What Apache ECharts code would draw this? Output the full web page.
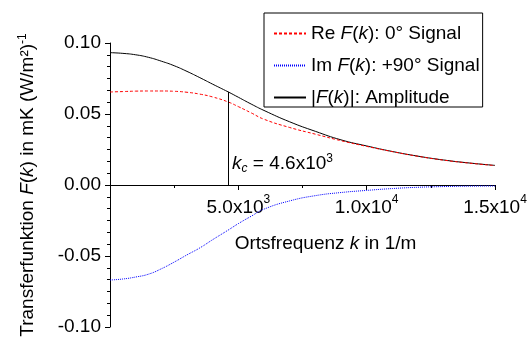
<!DOCTYPE html>
<html>
<head>
<meta charset="utf-8">
<script src="https://cdn.jsdelivr.net/npm/echarts@6/dist/echarts.min.js"></script>
<style>
  html, body { margin: 0; padding: 0; background: #fff; }
  #chart { width: 527px; height: 338px; }
</style>
</head>
<body>
<div id="chart"></div>
<script>
// Spatial frequency k in 1/m
const kValues = [0, 500, 1000, 1500, 2000, 2500, 3000, 3500, 4000, 4600, 5000, 5500,
  6000, 7000, 8000, 9000, 10000, 11000, 12000, 13000, 14000, 15000];
// Real part (0° signal)
const reValues = [0.0655, 0.0658, 0.0661, 0.0662, 0.0662, 0.0660, 0.0653, 0.0640, 0.0620,
  0.0585, 0.0552, 0.0508, 0.0463, 0.0405, 0.0358, 0.0312, 0.0272, 0.0235, 0.0202,
  0.0175, 0.0154, 0.0137];
// Imaginary part (+90° signal)
const imValues = [-0.0669, -0.0662, -0.0648, -0.0628, -0.0590, -0.0543, -0.0492, -0.0443,
  -0.0385, -0.0318, -0.0272, -0.0220, -0.0170, -0.0112, -0.0075, -0.0053, -0.0038,
  -0.0025, -0.0016, -0.0011, -0.0008, -0.0007];
// Amplitude |F(k)|
const ampValues = [0.0932, 0.0927, 0.0917, 0.0899, 0.0872, 0.0840, 0.0800, 0.0756, 0.0710,
  0.0656, 0.0618, 0.0570, 0.0525, 0.0445, 0.0378, 0.0318, 0.0275, 0.0236, 0.0203,
  0.0176, 0.0155, 0.0138];

// Cut-off frequency and the amplitude there
const kc = 4600;
const kcAmp = 0.0656;
const kcLabelY = 0.0148;

const yTicks = [-0.10, -0.05, 0.00, 0.05, 0.10];
const xTickLabels = { 5000: ['5.0x10', '3'], 10000: ['1.0x10', '4'], 15000: ['1.5x10', '4'] };

const seriesNames = ['Re F(k): 0° Signal', 'Im F(k): +90° Signal', '|F(k)|: Amplitude'];
const legendRich = {
  'Re F(k): 0° Signal': 'Re {it|F}(' + '{it|k}): 0° Signal',
  'Im F(k): +90° Signal': 'Im {it|F}(' + '{it|k}): +90° Signal',
  '|F(k)|: Amplitude': '|{it|F}(' + '{it|k})|: Amplitude'
};

const FONT = '"Liberation Sans", Arial, sans-serif';
const FS = 19;
const GRID_TOP = 43;
const GRID_BOTTOM = 11;
const CHART_H = 338;
const toPairs = vals => kValues.map((k, i) => [k, vals[i]]);

// The k axis crosses the value axis at zero, i.e. in the middle of the plot area
const plotHeight = CHART_H - GRID_TOP - GRID_BOTTOM;
const xAxisOffset = -plotHeight / 2;

const chart = echarts.init(document.getElementById('chart'));
chart.setOption({
  animation: false,
  backgroundColor: '#fff',
  textStyle: { fontFamily: FONT, color: '#000' },
  grid: { left: 110, right: 32, top: GRID_TOP, bottom: GRID_BOTTOM, containLabel: false, outerBoundsMode: 'none' },
  legend: {
    data: seriesNames,
    orient: 'vertical',
    left: 264,
    top: 13,
    borderColor: '#000',
    borderWidth: 1,
    padding: [11, 3, 0, 9],
    itemWidth: 32,
    itemHeight: 18,
    itemGap: 13,
    itemStyle: { opacity: 0, borderWidth: 0 },
    formatter: name => legendRich[name],
    textStyle: {
      fontFamily: FONT, fontSize: FS, color: '#000', lineHeight: 18,
      rich: { it: { fontStyle: 'italic', fontFamily: FONT, fontSize: FS, lineHeight: 18 } }
    }
  },
  xAxis: {
    type: 'value',
    position: 'bottom',
    offset: xAxisOffset,
    min: 0, max: 15000, interval: 5000,
    name: 'Ortsfrequenz {it|k} in 1/m',
    nameLocation: 'middle',
    nameGap: 49,
    nameTextStyle: {
      fontFamily: FONT, fontSize: FS, color: '#000', padding: [0, 0, 0, 46],
      rich: { it: { fontStyle: 'italic', fontFamily: FONT, fontSize: FS } }
    },
    axisLine: { onZero: false, lineStyle: { color: '#000', width: 1 } },
    axisTick: { length: 5, lineStyle: { color: '#000' } },
    minorTick: { show: true, splitNumber: 2, length: 3, lineStyle: { color: '#000' } },
    splitLine: { show: false },
    axisLabel: {
      margin: 9,
      fontSize: FS, color: '#000', fontFamily: FONT,
      lineHeight: 28,
      formatter: v => {
        const t = xTickLabels[v];
        return t ? t[0] + '{sup|' + t[1] + '}' : '';
      },
      rich: { sup: { fontSize: 12, fontFamily: FONT, verticalAlign: 'top', lineHeight: 12 } }
    }
  },
  yAxis: {
    type: 'value',
    min: -0.1, max: 0.1, interval: 0.05,
    name: 'Transferfunktion {it|F}({it|k}) in mK (W/m²){sup|-1}',
    nameLocation: 'middle',
    nameGap: 71,
    nameTextStyle: {
      fontFamily: FONT, fontSize: FS, color: '#000', lineHeight: 22,
      rich: {
        it: { fontStyle: 'italic', fontFamily: FONT, fontSize: FS },
        sup: { fontSize: 12, fontFamily: FONT, verticalAlign: 'top', lineHeight: 12 }
      }
    },
    axisLine: { onZero: false, lineStyle: { color: '#000', width: 1 } },
    axisTick: { length: 5, lineStyle: { color: '#000' } },
    minorTick: { show: true, splitNumber: 6, length: 3, lineStyle: { color: '#000' } },
    splitLine: { show: false },
    axisLabel: {
      margin: 9,
      fontSize: FS, color: '#000', fontFamily: FONT,
      formatter: v => {
        const hit = yTicks.find(t => Math.abs(t - v) < 1e-9);
        return hit === undefined ? '' : hit.toFixed(2);
      }
    }
  },
  series: [
    {
      name: seriesNames[2],
      type: 'line',
      data: toPairs(ampValues),
      smooth: true,
      showSymbol: false,
      symbol: 'none',
      color: '#000',
      lineStyle: { color: '#000', width: 1, type: 'solid' },
      z: 2,
      markLine: {
        silent: true,
        symbol: 'none',
        label: { show: false },
        lineStyle: { color: '#000', width: 1, type: 'solid' },
        data: [[{ coord: [kc, 0] }, { coord: [kc, kcAmp] }]]
      },
      markPoint: {
        silent: true,
        symbol: 'circle',
        symbolSize: 0,
        data: [{ coord: [kc, kcLabelY] }],
        label: {
          show: true,
          position: 'right',
          distance: 4,
          color: '#000',
          fontFamily: FONT,
          fontSize: FS,
          lineHeight: 22,
          formatter: () => '{it|k}{sub|c} = 4.6x10{sup|3}',
          rich: {
            it: { fontStyle: 'italic', fontFamily: FONT, fontSize: FS },
            sub: { fontStyle: 'italic', fontFamily: FONT, fontSize: 12, verticalAlign: 'bottom', lineHeight: 12 },
            sup: { fontFamily: FONT, fontSize: 12, verticalAlign: 'top', lineHeight: 12 }
          }
        }
      }
    },
    {
      name: seriesNames[0],
      type: 'line',
      data: toPairs(reValues),
      smooth: true,
      showSymbol: false,
      symbol: 'none',
      color: '#ff0000',
      lineStyle: { color: '#ff0000', width: 1, type: [3, 2] },
      z: 3
    },
    {
      name: seriesNames[1],
      type: 'line',
      data: toPairs(imValues),
      smooth: true,
      showSymbol: false,
      symbol: 'none',
      color: '#0000ff',
      lineStyle: { color: '#0000ff', width: 1, type: [1, 1] },
      z: 3
    }
  ]
});
</script>
</body>
</html>
